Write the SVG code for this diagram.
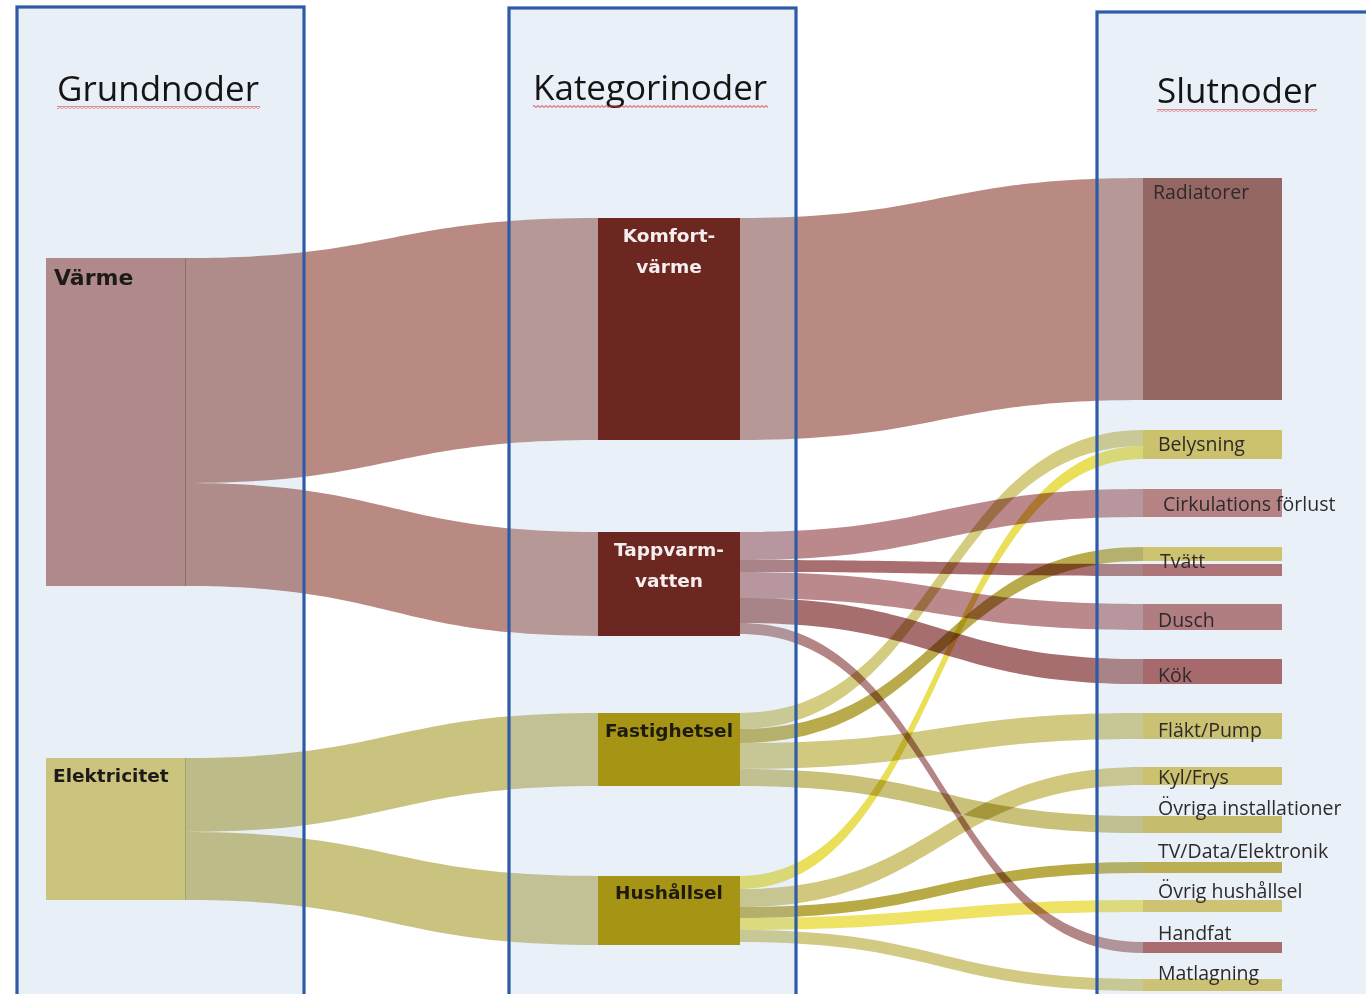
<svg xmlns="http://www.w3.org/2000/svg" width="1366" height="994" viewBox="0 0 1366 994">
  <defs>
    <pattern id="squiggle" width="4" height="3" patternUnits="userSpaceOnUse">
      <path d="M0 2.4 L2 0.6 L4 2.4" fill="none" stroke="#d23a3a" stroke-width="1"/>
    </pattern>
    <style>
      .panel { fill: #e9f0f8; }
      .veil { fill: #e9f0f8; opacity: 0.2; }
      .frame { fill: none; stroke: #2f5aa6; stroke-width: 3.2; }
      .flow { mix-blend-mode: multiply; }
      .heat { fill: #b98a82; }
      .elec { fill: #cac27f; }
      .head { font-family: "Open Sans", "DejaVu Sans", sans-serif; font-size: 35px; fill: #141414; }
      .src { font-family: "DejaVu Sans", "Open Sans", sans-serif; font-weight: bold; fill: #1e1a18; }
      .mid { font-family: "DejaVu Sans", "Open Sans", sans-serif; font-weight: bold; font-size: 18.5px; text-anchor: middle; }
      .end { font-family: "Open Sans", "Liberation Sans", sans-serif; font-size: 19.5px; fill: #2e2a2a; }
    </style>
  </defs>

  <rect width="1366" height="994" fill="#ffffff"/>

  <!-- column backgrounds -->
  <g id="columns">
    <rect class="panel" x="17" y="7" width="287" height="995"/>
    <rect class="panel" x="509" y="8" width="287" height="995"/>
    <rect class="panel" x="1097" y="12" width="280" height="995"/>
  </g>

  <!-- connectors: sankey bands -->
  <g id="connectors">
    <!-- sources to categories -->
    <path class="flow heat" d="M185 258 C391 258 391 218 598 218 L598 440 C391 440 391 483 185 483 Z"/>
    <path class="flow heat" d="M185 483 C391 483 391 532 598 532 L598 636 C391 636 391 586 185 586 Z"/>
    <path class="flow elec" d="M185 758 C391 758 391 713 598 713 L598 786 C391 786 391 832 185 832 Z"/>
    <path class="flow elec" d="M185 832 C391 832 391 876 598 876 L598 945 C391 945 391 900 185 900 Z"/>

    <!-- categories to end uses -->
    <path class="flow" fill="#b98a82" d="M740 218 C941 218 941 178 1143 178 L1143 400 C941 400 941 440 740 440 Z"/>
    <path class="flow" fill="#bb888b" d="M740 532 C941 532 941 489 1143 489 L1143 517 C941 517 941 560 740 560 Z"/>
    <path class="flow" fill="#a96e70" d="M740 560 C941 560 941 564 1143 564 L1143 576 C941 576 941 572 740 572 Z"/>
    <path class="flow" fill="#bb888b" d="M740 572 C941 572 941 604 1143 604 L1143 630 C941 630 941 598 740 598 Z"/>
    <path class="flow" fill="#a66e6f" d="M740 598 C941 598 941 659 1143 659 L1143 684 C941 684 941 623 740 623 Z"/>
    <path class="flow" fill="#b38585" d="M740 623 C941 623 941 942 1143 942 L1143 953 C941 953 941 634 740 634 Z"/>

    <path class="flow" fill="#d4cc80" d="M740 713 C941 713 941 430 1143 430 L1143 446 C941 446 941 729 740 729 Z"/>
    <path class="flow" fill="#b9ab4c" d="M740 729 C941 729 941 547 1143 547 L1143 561 C941 561 941 743 740 743 Z"/>
    <path class="flow" fill="#d1c980" d="M740 743 C941 743 941 713 1143 713 L1143 739 C941 739 941 769 740 769 Z"/>
    <path class="flow" fill="#c9c07a" d="M740 769 C941 769 941 816 1143 816 L1143 833 C941 833 941 786 740 786 Z"/>

    <path class="flow" fill="#eadf58" d="M740 876 C941 876 941 446 1143 446 L1143 459 C941 459 941 889 740 889 Z"/>
    <path class="flow" fill="#d1c87d" d="M740 889 C941 889 941 767 1143 767 L1143 785 C941 785 941 907 740 907 Z"/>
    <path class="flow" fill="#b8aa45" d="M740 907 C941 907 941 862 1143 862 L1143 873 C941 873 941 918 740 918 Z"/>
    <path class="flow" fill="#eee364" d="M740 918 C941 918 941 900 1143 900 L1143 912 C941 912 941 930 740 930 Z"/>
    <path class="flow" fill="#d2ca82" d="M740 930 C941 930 941 979 1143 979 L1143 991 C941 991 941 942 740 942 Z"/>
  </g>

  <!-- light wash over the bands inside the columns -->
  <rect class="veil" x="17" y="7" width="287" height="995" style="opacity:0.1"/>
  <rect class="veil" x="509" y="8" width="287" height="995"/>
  <rect class="veil" x="1097" y="12" width="280" height="995"/>

  <!-- column headings -->
  <g id="headings">
    <text class="head" x="57" y="101">Grundnoder</text>
    <rect x="57" y="106" width="203" height="3" fill="url(#squiggle)"/>
    <text class="head" x="533" y="100">Kategorinoder</text>
    <rect x="533" y="105" width="235" height="3" fill="url(#squiggle)"/>
    <text class="head" x="1157" y="103">Slutnoder</text>
    <rect x="1157" y="109" width="160" height="3" fill="url(#squiggle)"/>
  </g>

  <!-- source nodes -->
  <g id="node-varme">
    <rect x="46" y="258" width="139" height="328" fill="#b08a8a"/>
    <line x1="185.5" y1="258" x2="185.5" y2="586" stroke="#8f6d6d" stroke-width="1"/>
    <text class="src" x="54" y="285" font-size="22">Värme</text>
  </g>
  <g id="node-elektricitet">
    <rect x="46" y="758" width="139" height="142" fill="#cbc47e"/>
    <line x1="185.5" y1="758" x2="185.5" y2="900" stroke="#aaa262" stroke-width="1"/>
    <text class="src" x="53" y="782" font-size="18.5">Elektricitet</text>
  </g>

  <!-- category nodes -->
  <g id="node-komfortvarme">
    <rect x="598" y="218" width="142" height="222" fill="#6d2721"/>
    <text class="mid" x="669" y="242" fill="#f4eeee">Komfort-</text>
    <text class="mid" x="669" y="273" fill="#f4eeee">värme</text>
  </g>
  <g id="node-tappvarmvatten">
    <rect x="598" y="532" width="142" height="104" fill="#6d2721"/>
    <text class="mid" x="669" y="556" fill="#f4eeee">Tappvarm-</text>
    <text class="mid" x="669" y="587" fill="#f4eeee">vatten</text>
  </g>
  <g id="node-fastighetsel">
    <rect x="598" y="713" width="142" height="73" fill="#a69515"/>
    <text class="mid" x="669" y="737" fill="#1e1a10">Fastighetsel</text>
  </g>
  <g id="node-hushallsel">
    <rect x="598" y="876" width="142" height="69" fill="#a69515"/>
    <text class="mid" x="669" y="899" fill="#1e1a10">Hushållsel</text>
  </g>

  <!-- end-use nodes -->
  <g id="node-radiatorer">
    <rect x="1143" y="178" width="139" height="222" fill="#946765"/>
    <text class="end" x="1153" y="199">Radiatorer</text>
  </g>
  <g id="node-belysning">
    <rect x="1143" y="430" width="139" height="29" fill="#ccc26d"/>
    <text class="end" x="1158" y="451">Belysning</text>
  </g>
  <g id="node-cirkulation">
    <rect x="1143" y="489" width="139" height="28" fill="#b68385"/>
    <text class="end" x="1163" y="511">Cirkulations förlust</text>
  </g>
  <g id="node-tvatt">
    <rect x="1143" y="547" width="139" height="14" fill="#cdc36e"/>
    <rect x="1143" y="564" width="139" height="12" fill="#ad7477"/>
    <text class="end" x="1160" y="568">Tvätt</text>
  </g>
  <g id="node-dusch">
    <rect x="1143" y="604" width="139" height="26" fill="#b07d80"/>
    <text class="end" x="1158" y="627">Dusch</text>
  </g>
  <g id="node-kok">
    <rect x="1143" y="659" width="139" height="25" fill="#a66a6d"/>
    <text class="end" x="1158" y="682">Kök</text>
  </g>
  <g id="node-flakt">
    <rect x="1143" y="713" width="139" height="26" fill="#cbc172"/>
    <text class="end" x="1158" y="737">Fläkt/Pump</text>
  </g>
  <g id="node-kyl">
    <rect x="1143" y="767" width="139" height="18" fill="#cbc16e"/>
    <text class="end" x="1158" y="784">Kyl/Frys</text>
  </g>
  <g id="node-ovriga-installationer">
    <rect x="1143" y="816" width="139" height="17" fill="#c6bc6e"/>
    <text class="end" x="1158" y="815">Övriga installationer</text>
  </g>
  <g id="node-tv">
    <rect x="1143" y="862" width="139" height="11" fill="#bcae52"/>
    <text class="end" x="1158" y="858">TV/Data/Elektronik</text>
  </g>
  <g id="node-ovrig-hushallsel">
    <rect x="1143" y="900" width="139" height="12" fill="#cdc373"/>
    <text class="end" x="1158" y="898">Övrig hushållsel</text>
  </g>
  <g id="node-handfat">
    <rect x="1143" y="942" width="139" height="11" fill="#a86c70"/>
    <text class="end" x="1158" y="940">Handfat</text>
  </g>
  <g id="node-matlagning">
    <rect x="1143" y="979" width="139" height="12" fill="#cbc273"/>
    <text class="end" x="1158" y="980">Matlagning</text>
  </g>

  <!-- column frames -->
  <g id="frames">
    <rect class="frame" x="17" y="7" width="287" height="1000"/>
    <rect class="frame" x="509" y="8" width="287" height="1000"/>
    <rect class="frame" x="1097" y="12" width="290" height="1000"/>
  </g>
</svg>
